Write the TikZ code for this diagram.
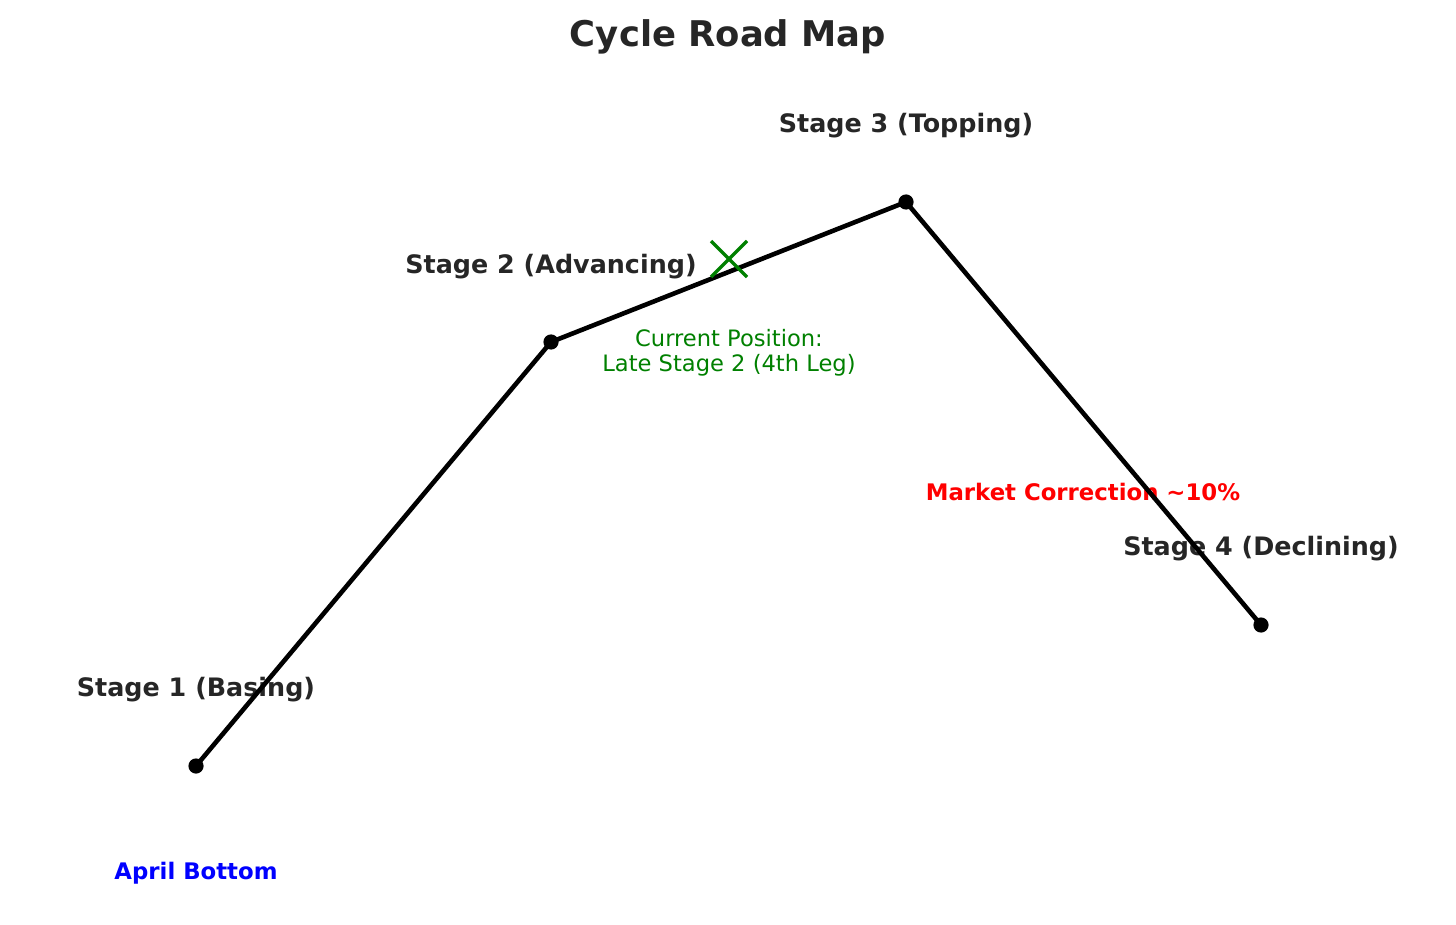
\documentclass[tikz,border=0pt]{standalone}
\usepackage{fontspec}
\setmainfont{DejaVu Sans}
\usetikzlibrary{calc}
\definecolor{txtgray}{HTML}{262626}
\definecolor{mplgreen}{HTML}{008000}
\tikzset{
  stagelbl/.style={font=\bfseries\fontsize{12.7pt}{15pt}\selectfont, text=txtgray, inner sep=0pt},
  notelbl/.style={font=\bfseries\fontsize{11.4pt}{14pt}\selectfont, inner sep=0pt},
  dot/.style={circle, fill=black, inner sep=0pt, minimum size=7.6pt},
  pathline/.style={line width=2.3pt, black},
}
\begin{document}
\begin{tikzpicture}[x=0.5pt,y=-0.5pt]
\useasboundingbox (0,0) rectangle (1456,925);
\node[font=\bfseries\fontsize{17.7pt}{21pt}\selectfont, text=txtgray, inner sep=0pt] (title) at (728,37) {Cycle Road Map};
% labels
\node[stagelbl] (l1) at (196,690) {Stage 1 (Basing)};
\node[stagelbl] (l2) at (551,267) {Stage 2 (Advancing)};
\node[stagelbl] (l3) at (906,126) {Stage 3 (Topping)};
\node[stagelbl] (l4) at (1261,549) {Stage 4 (Declining)};
\node[notelbl, text=blue] (april) at (196,873) {April Bottom};
\node[notelbl, text=red] (corr) at (1083,492) {Market Correction \char`\~10\%};
\node[font=\fontsize{11.3pt}{12.6pt}\selectfont, text=mplgreen, align=center, inner sep=0pt] (cur) at (729,353) {Current Position:\\Late Stage 2 (4th Leg)};
% points
\coordinate (s1) at (196,766);
\coordinate (s2) at (551,342);
\coordinate (s3) at (906,202);
\coordinate (s4) at (1261,625);
\draw[pathline, line join=round] (s1) -- (s2) -- (s3) -- (s4);
\foreach \p in {s1,s2,s3,s4} \node[dot] at (\p) {};
% marker X
\coordinate (xm) at (729,259);
\draw[mplgreen, line width=1.6pt] ($(xm)+(-18,-18)$) -- ($(xm)+(18,18)$);
\draw[mplgreen, line width=1.6pt] ($(xm)+(-18,18)$) -- ($(xm)+(18,-18)$);
\end{tikzpicture}
\end{document}
